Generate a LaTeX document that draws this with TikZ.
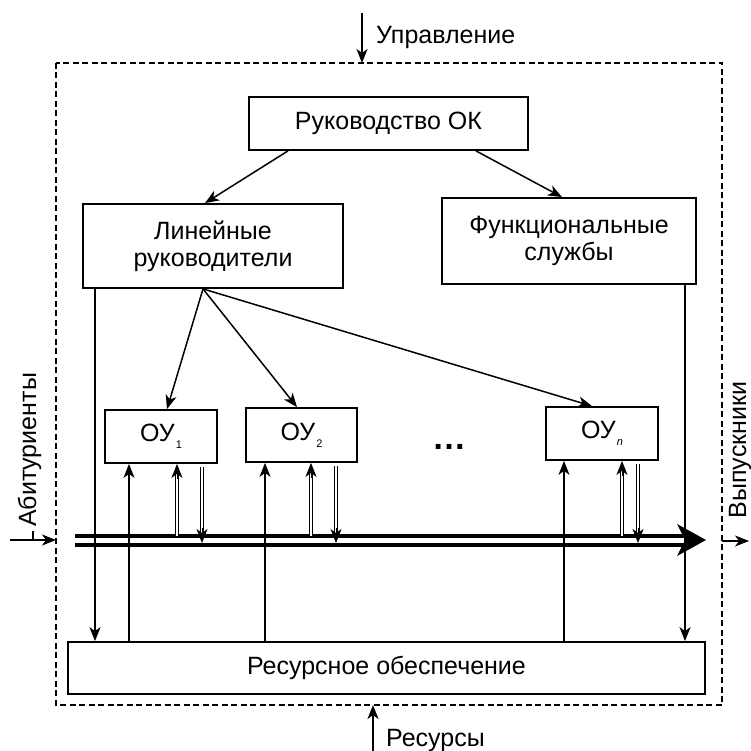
\documentclass[tikz,border=0pt]{standalone}
\usepackage{fontspec}
\setmainfont{Liberation Sans}
\usetikzlibrary{arrows.meta,calc}
\newcommand\oysub[1]{\hspace{1pt}\raisebox{-7pt}{\fontsize{11}{11}\selectfont #1}}
\begin{document}
\begin{tikzpicture}[x=1pt,y=-1pt,
  font=\fontsize{25}{27}\selectfont,
  box/.style={draw, line width=1.8pt, inner sep=0pt, align=center},
  conn/.style={line width=1.5pt},
  arr/.style={conn, -{Stealth[length=14pt,width=11pt,inset=4pt]}},
  frame/.style={line width=1.5pt, dash pattern=on 6pt off 3.5pt},
  dbl/.style={double, double distance=1.6pt, line width=1.1pt},
  tipo/.style={line width=1pt, -{Stealth[length=14pt,width=11pt,inset=4pt]}},
  flow/.style={line width=4pt},
]
\useasboundingbox (0,0) rectangle (750,751);
% frame
\coordinate (FTL) at (56,63);
\coordinate (FBR) at (722,705);
\draw[frame] (FTL) rectangle (FBR);

% boxes
\node[box, minimum width=279pt, minimum height=53pt] (ruk) at (388.5,123.5) {Руководство ОК};
\node[box, minimum width=260pt, minimum height=84pt] (lin) at (213,246) {Линейные\\руководители};
\node[box, minimum width=254pt, minimum height=86pt] (fun) at (569,241) {Функциональные\\службы};
\node[box, minimum width=112pt, minimum height=53pt] (ou1) at (161,436.5) {ОУ\oysub{1}};
\node[box, minimum width=111pt, minimum height=54pt] (ou2) at (301.5,435) {ОУ\oysub{2}};
\node[box, minimum width=112pt, minimum height=53pt] (oun) at (602,433.5) {ОУ\oysub{\itshape n}};
\node[box, minimum width=637pt, minimum height=52pt] (res) at (386.5,668) {Ресурсное обеспечение};
\node[anchor=base, inner sep=0pt, font=\fontsize{34}{34}\selectfont\bfseries] (dots) at (449,449) {…};

% outside labels
\node[anchor=base west, inner sep=0pt] (upr) at (376,44) {Управление};
\node[anchor=base west, inner sep=0pt] (rest) at (386,746) {Ресурсы};
\node[rotate=90, anchor=base, inner sep=0pt] (abit) at (36,450) {Абитуриенты};
\node[rotate=90, anchor=base, inner sep=0pt] (vyp) at (746,450) {Выпускники};

% external arrows
\coordinate (uprs) at (362,13);
\draw[arr] (uprs) -- (uprs |- FTL);
\coordinate (ress) at (373,751);
\draw[arr] (ress) -- (ress |- FBR);
\coordinate (ain) at (10,540);
\draw[arr] (ain) -- (ain -| FTL);
\draw[conn] (33,531) -- (33,540);
\coordinate (vout) at (749,541);
\draw[arr] (vout -| FBR) -- (vout);

% hierarchy
\draw[arr] ([xshift=-100.5pt]ruk.south) -- ([xshift=-8pt]lin.north);
\draw[arr] ([xshift=87.5pt]ruk.south) -- ([xshift=-7pt]fun.north);
\coordinate (lo) at ([xshift=-10pt]lin.south);
\draw[arr] (lo) -- ([xshift=6pt]ou1.north);
\draw[arr] (lo) -- ([xshift=-4.5pt]ou2.north);
\draw[arr] (lo) -- ([xshift=-10pt]oun.north);

% flow
\coordinate (fs) at (75,540);
\coordinate (fe) at (706,540);
\coordinate (ft) at (75,535.5);
\coordinate (fb) at (75,543);
\draw[flow] ($(fs)+(0,-4.5)$) -- ($(fe)+(-20,-4.5)$);
\draw[flow] ($(fs)+(0,4.5)$) -- ($(fe)+(-20,4.5)$);
\fill (fe) -- ++(-29,-16) -- ++(8,16) -- ++(-8,16) -- cycle;

% side verticals
\coordinate (cl) at (95,0);
\coordinate (cr) at (685,0);
\draw[arr] (lin.south -| cl) -- (res.north -| cl);
\draw[arr] (fun.south -| cr) -- (res.north -| cr);

% single up arrows from resources
\foreach \n/\dx in {ou1/-32, ou2/-36.5, oun/-38}{
  \draw[arr] (res.north -| {$(\n.south)+(\dx,0)$}) -- ($(\n.south)+(\dx,0)$);
}

% double arrows
\foreach \n/\du/\dd in {ou1/16/41, ou2/9.5/34.5, oun/20/36}{
  \coordinate (u) at ($(\n.south)+(\du,0)$);
  \coordinate (d) at ($(\n.south)+(\dd,0)$);
  \draw[dbl] (u |- ft) -- ($(u)+(0,11)$);
  \draw[tipo] ($(u)+(0,15)$) -- (u);
  \draw[dbl] ($(d)+(0,3)$) -- ($(d |- fb)+(0,-11)$);
  \draw[tipo] ($(d |- fb)+(0,-15)$) -- (d |- fb);
}
\end{tikzpicture}
\end{document}
